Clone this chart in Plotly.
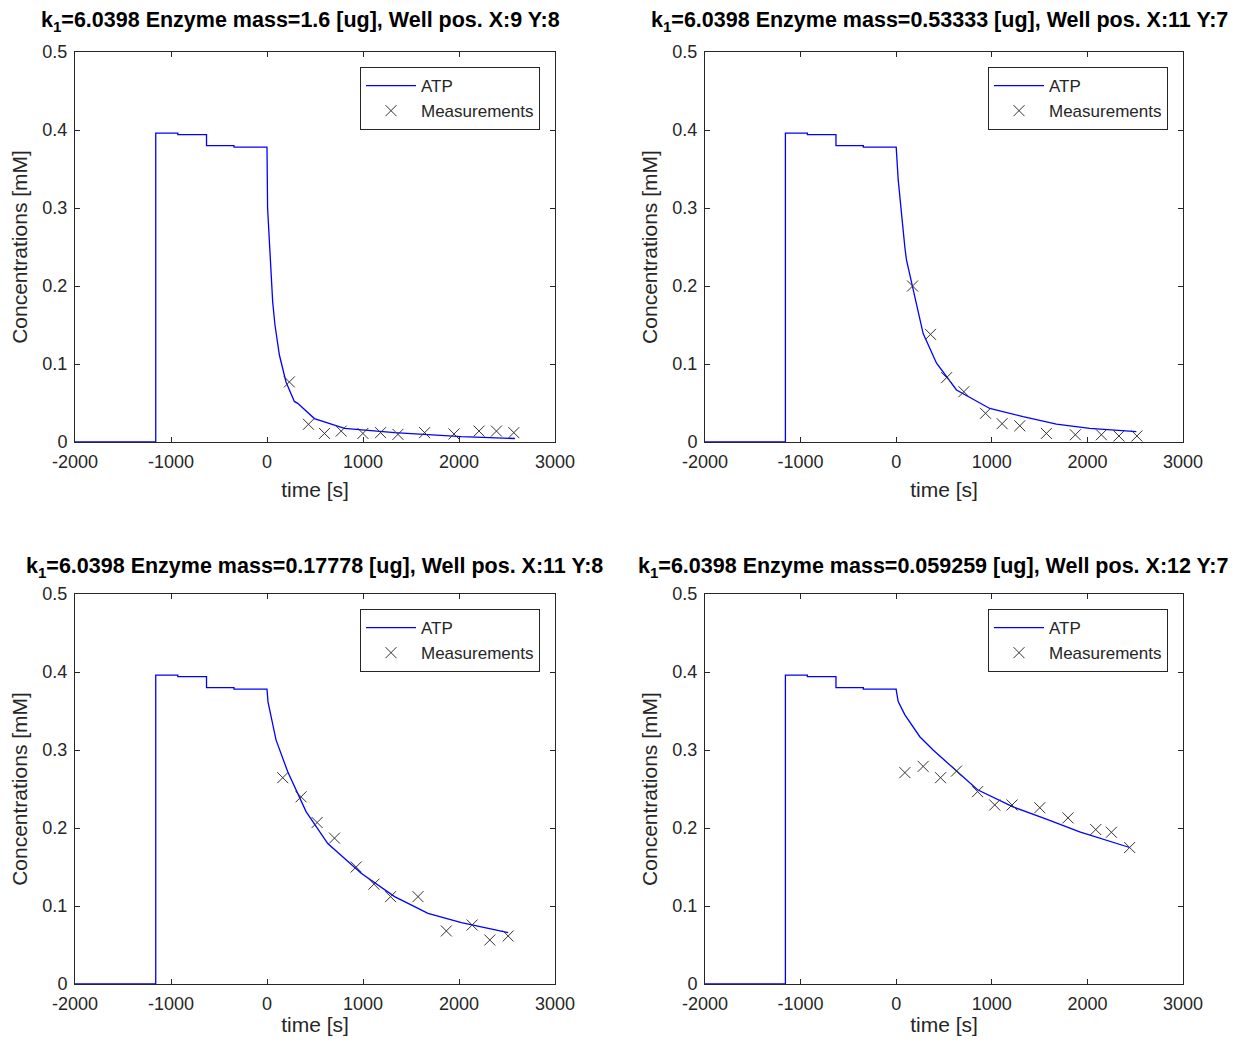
import plotly.graph_objects as go

# panel titles
titles = [
    "k<sub>1</sub>=6.0398 Enzyme mass=1.6 [ug], Well pos. X:9 Y:8",
    "k<sub>1</sub>=6.0398 Enzyme mass=0.53333 [ug], Well pos. X:11 Y:7",
    "k<sub>1</sub>=6.0398 Enzyme mass=0.17778 [ug], Well pos. X:11 Y:8",
    "k<sub>1</sub>=6.0398 Enzyme mass=0.059259 [ug], Well pos. X:12 Y:7",
]

# common pre-phase of the ATP curve (step shape)
pre_t = [-2000, -1159, -1159, -929, -929, -630, -630, -344, -344, 0]
pre_c = [0, 0, 0.396, 0.396, 0.394, 0.394, 0.380, 0.380, 0.378, 0.378]

# ATP model curves after t=0
atp1_t = [0, 6, 14, 35, 59, 83, 129, 198, 285, 320, 494, 807, 1329, 2025, 2582]
atp1_c = [0.378, 0.30, 0.280, 0.227, 0.180, 0.150, 0.1115, 0.077, 0.052, 0.0496, 0.030, 0.0175, 0.012, 0.0068, 0.0045]

atp2_t = [0, 21, 39, 56, 73, 91, 108, 171, 282, 422, 631, 979, 1327, 1676, 2024, 2512]
atp2_c = [0.378, 0.336, 0.312, 0.291, 0.272, 0.249, 0.233, 0.200, 0.139, 0.101, 0.0667, 0.043, 0.0325, 0.023, 0.0175, 0.0133]

atp3_t = [0, 10, 40, 94, 216, 407, 633, 981, 1329, 1677, 2025, 2512]
atp3_c = [0.378, 0.362, 0.345, 0.313, 0.272, 0.221, 0.180, 0.142, 0.112, 0.0906, 0.0786, 0.0658]

atp4_t = [0, 21, 91, 247, 386, 578, 735, 851, 1222, 1571, 1919, 2442]
atp4_c = [0.377, 0.362, 0.345, 0.317, 0.300, 0.2786, 0.2615, 0.249, 0.227, 0.2115, 0.195, 0.175]

# measurements
meas1_t = [233, 432, 599, 773, 999, 1183, 1364, 1642, 1948, 2209, 2390, 2571]
meas1_c = [0.077, 0.0227, 0.011, 0.014, 0.011, 0.012, 0.0098, 0.012, 0.0103, 0.014, 0.014, 0.012]

meas2_t = [171, 359, 527, 708, 934, 1108, 1293, 1571, 1874, 2146, 2330, 2518]
meas2_c = [0.200, 0.138, 0.0825, 0.0645, 0.0368, 0.0235, 0.0208, 0.011, 0.0093, 0.0093, 0.0077, 0.0077]

meas3_t = [164, 355, 522, 703, 929, 1114, 1287, 1573, 1868, 2137, 2321, 2512]
meas3_c = [0.2645, 0.240, 0.207, 0.187, 0.150, 0.128, 0.112, 0.112, 0.068, 0.0756, 0.0564, 0.0615]

meas4_t = [91, 282, 464, 631, 851, 1031, 1212, 1502, 1797, 2087, 2251, 2442]
meas4_c = [0.271, 0.279, 0.2645, 0.273, 0.2466, 0.2295, 0.2295, 0.226, 0.213, 0.198, 0.1945, 0.175]

x_ticks = [-2000, -1000, 0, 1000, 2000, 3000]
x_ticktext = ["-2000", "-1000", "0", "1000", "2000", "3000"]
y_ticks = [0, 0.1, 0.2, 0.3, 0.4, 0.5]
y_ticktext = ["0", "0.1", "0.2", "0.3", "0.4", "0.5"]

atp_t = [atp1_t, atp2_t, atp3_t, atp4_t]
atp_c = [atp1_c, atp2_c, atp3_c, atp4_c]
meas_t = [meas1_t, meas2_t, meas3_t, meas4_t]
meas_c = [meas1_c, meas2_c, meas3_c, meas4_c]

# page body has an 8px margin, so the figure is drawn 8px in from the window corner
OFF = 8
W, H = 1239 - 2 * OFF, 1044 - 2 * OFF
ML, MR, MT, MB = 4, 0, 0, 40
# axes boxes in window pixels: (left, right, top, bottom)
boxes = [(75, 555, 52, 442), (705, 1183, 52, 442),
         (75, 555, 594, 984), (705, 1183, 594, 984)]
title_shift = [-15, -5, -1, -11]
title_y = [22, 22, 567, 567]

FONT = "Liberation Sans, Arial, Helvetica, sans-serif"
AX = "#262626"


def px(x):
    return (x - OFF - ML) / (W - ML - MR)


def py(y):
    return 1 - (y - OFF - MT) / (H - MT - MB)


fig = go.Figure()
layout = dict(width=W, height=H, margin=dict(l=ML, r=MR, t=MT, b=MB),
              plot_bgcolor="white", paper_bgcolor="white",
              font=dict(family=FONT, size=17, color=AX),
              annotations=[])

for i in range(4):
    n = "" if i == 0 else str(i + 1)
    leg = "legend" + n
    l, r, t, b = boxes[i]
    fig.add_trace(go.Scatter(x=pre_t + atp_t[i], y=pre_c + atp_c[i], mode="lines",
                             line=dict(color="#0000ff", width=1.3), name="ATP",
                             xaxis="x" + n, yaxis="y" + n, legend=leg))
    fig.add_trace(go.Scatter(x=meas_t[i], y=meas_c[i], mode="markers",
                             marker=dict(symbol="x-thin", size=11, color="#333333",
                                         line=dict(width=1, color="#333333")),
                             name="Measurements", xaxis="x" + n, yaxis="y" + n, legend=leg))
    common = dict(showline=True, linecolor=AX, linewidth=1, mirror="ticks",
                  ticks="inside", ticklen=5, tickcolor=AX, showgrid=False, zeroline=False,
                  automargin=False,
                  tickfont=dict(size=18, color=AX), title_font=dict(size=21, color=AX))
    layout["xaxis" + n] = dict(common, domain=[px(l), px(r)], anchor="y" + n,
                               range=[-2000, 3000], tickvals=x_ticks, ticktext=x_ticktext,
                               ticklabelstandoff=3,
                               title=dict(text="time [s]", standoff=11))
    layout["yaxis" + n] = dict(common, domain=[py(b), py(t)], anchor="x" + n,
                               range=[0, 0.5], tickvals=y_ticks, ticktext=y_ticktext,
                               ticklabelstandoff=3,
                               title=dict(text="Concentrations [mM]", standoff=9))
    layout[leg] = dict(x=px(r - 15), y=py(t + 15), xanchor="right", yanchor="top",
                       bgcolor="white", bordercolor=AX, borderwidth=1,
                       font=dict(size=17, color=AX), tracegroupgap=0, itemwidth=50)
    layout["annotations"].append(dict(text="<b>" + titles[i] + "</b>", xref="paper", yref="paper",
                                      x=px((l + r) / 2 + title_shift[i]), y=py(title_y[i]),
                                      xanchor="center", yanchor="middle", showarrow=False,
                                      font=dict(size=21.5, color="#000000")))

fig.update_layout(**layout)
fig.write_html("out.html")
